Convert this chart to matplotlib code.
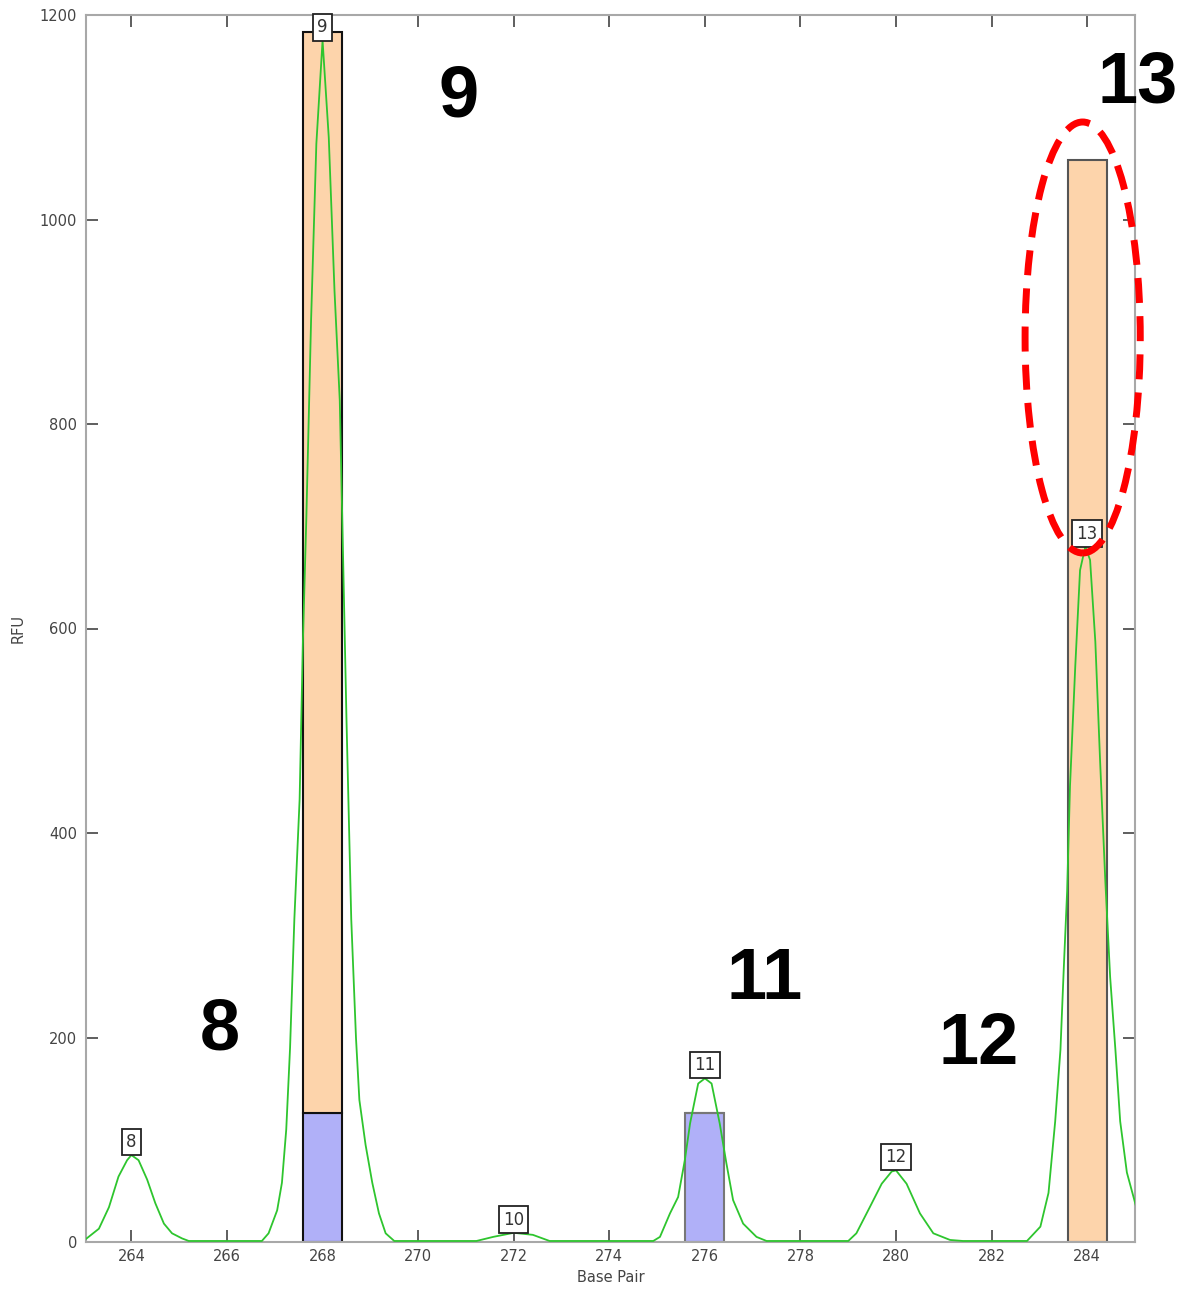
import matplotlib
matplotlib.use('Agg')
import matplotlib.pyplot as plt
from matplotlib.patches import Ellipse

# Electropherogram trace (base pair vs RFU)
trace_bp = [263.05, 263.32, 263.53, 263.73, 263.91, 264.0, 264.15, 264.33, 264.5, 264.68,
            264.85, 265.06, 265.2, 266.73, 266.87, 267.05, 267.15, 267.24, 267.32, 267.41,
            267.52, 267.59, 267.66, 267.76, 267.87, 268.0, 268.13, 268.25, 268.36, 268.43,
            268.5, 268.6, 268.7, 268.77, 268.9, 269.04, 269.18, 269.32, 269.5, 271.22,
            271.57, 272.0, 272.4, 272.75, 274.92, 275.06, 275.27, 275.44, 275.58, 275.69,
            275.86, 276.0, 276.14, 276.31, 276.45, 276.59, 276.8, 277.08, 277.29, 279.0,
            279.17, 279.45, 279.7, 279.91, 280.0, 280.22, 280.5, 280.78, 281.13, 281.4,
            282.74, 283.02, 283.19, 283.33, 283.44, 283.51, 283.58, 283.64, 283.75, 283.85,
            283.96, 284.06, 284.17, 284.27, 284.38, 284.48, 284.59, 284.69, 284.83, 285.05]
trace_rfu = [3, 13, 34, 64, 80, 85, 80, 61, 38, 18,
             8.5, 3.5, 1, 1, 8.5, 31, 58, 110, 190, 316,
             433, 590, 707, 902, 1074, 1175, 1080, 930, 823, 668,
             512, 316, 199, 139, 95, 58, 28, 8.5, 1, 1,
             5, 9, 7, 1, 1, 5, 28, 44, 80, 116,
             155, 160, 155, 116, 77, 41, 18, 5, 1, 1,
             8.5, 34, 57, 69, 70, 57, 28, 8.5, 2, 1,
             1, 15, 48, 118, 188, 268, 343, 446, 563, 657,
             680, 667, 587, 470, 352, 259, 188, 118, 68, 30]

# Allele call labels on the peaks
peak_names = ['8', '9', '10', '11', '12', '13']
peak_bp = [264, 268, 272, 276, 280, 284]
peak_rfu = [85, 1175, 9, 160, 70, 680]

# Bars (blue part at bottom, orange stacked on top)
bar_bp = [268, 276, 284]
bar_blue = [126, 126, 0]
bar_orange = [1057, 0, 1058]
bar_edges = ['#111111', '#777777', '#555555']

# Big allele numbers written on the chart
big_names = ['8', '9', '11', '12', '13']
big_bp = [265.84, 270.85, 277.24, 281.72, 285.05]
big_rfu = [207, 1119, 256, 193, 1133]

xticks = list(range(264, 285, 2))
yticks = list(range(0, 1201, 200))

fig = plt.figure(figsize=(11.78, 12.93), dpi=100)
ax = fig.add_axes([86 / 1178, 51 / 1293, 1049 / 1178, 1227 / 1293])

ax.bar(bar_bp, bar_blue, width=0.82, color='#b0b0f8', edgecolor=bar_edges, linewidth=1.5, zorder=2)
ax.bar(bar_bp, bar_orange, width=0.82, bottom=bar_blue, color='#fdd4ab',
       edgecolor=bar_edges, linewidth=1.5, zorder=2)

ax.plot(trace_bp, trace_rfu, color='#2ec52e', linewidth=1.3, zorder=3)

for name, x, y in zip(peak_names, peak_bp, peak_rfu):
    ax.annotate(name, xy=(x, y), xytext=(0, 3), textcoords='offset points',
                ha='center', va='bottom', fontsize=12, color='#333333',
                bbox=dict(boxstyle='square,pad=0.25', fc='white', ec='#222222', lw=1.3),
                zorder=4, annotation_clip=False)

for name, x, y in zip(big_names, big_bp, big_rfu):
    ax.text(x, y, name, ha='center', va='center', fontsize=52, fontweight='bold',
            family='Liberation Sans', color='black', clip_on=False, zorder=6)

ax.add_patch(Ellipse((283.905, 884.6), 2.41, 421.5, fill=False, edgecolor='#ff0000',
                     linewidth=5, linestyle=(0, (3.6, 1.9)), clip_on=False, zorder=5))

ax.set_xlim(263.05, 285.0)
ax.set_ylim(0, 1200)
ax.set_xticks(xticks)
ax.set_yticks(yticks)
ax.tick_params(direction='in', length=8.6, width=1.1, color='#333333',
               labelcolor='#444444', labelsize=10.5, top=True, right=True)
ax.tick_params(axis='y', pad=6.5)
ax.tick_params(axis='x', pad=5)
for s in ax.spines.values():
    s.set_color('#a8a8a8')
    s.set_linewidth(1.5)

ax.set_xlabel('Base Pair', fontsize=10.5, color='#444444', labelpad=4)
ax.set_ylabel('RFU', fontsize=10.5, color='#444444', labelpad=10)

plt.savefig('out.png', dpi=100)
